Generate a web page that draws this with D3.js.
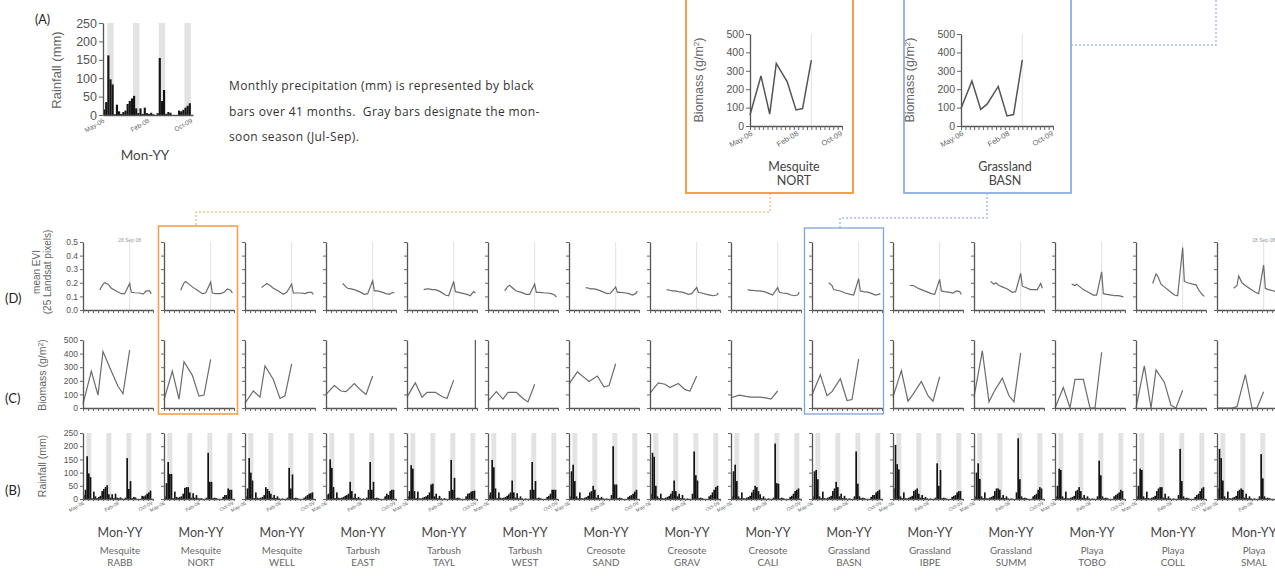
<!DOCTYPE html>
<html>
<head>
<meta charset="utf-8">
<script src="https://cdn.jsdelivr.net/npm/d3@7"></script>
<style>
  html, body { margin: 0; padding: 0; background: #fff; overflow: hidden; }
  svg { display: block; }
</style>
</head>
<body>
<div id="chart"></div>
<script>
// sites, left to right
const sites = ['RABB', 'NORT', 'WELL', 'EAST', 'TAYL', 'WEST', 'SAND', 'GRAV', 'CALI',
  'BASN', 'IBPE', 'SUMM', 'TOBO', 'COLL', 'SMAL'];
const siteTypes = ['Mesquite', 'Mesquite', 'Mesquite', 'Tarbush', 'Tarbush', 'Tarbush',
  'Creosote', 'Creosote', 'Creosote', 'Grassland', 'Grassland', 'Grassland', 'Playa', 'Playa', 'Playa'];

// month index 0 = May-06 ... 40 = Sep-09
const xTickMonths = [0, 21, 41];
const xTickLabels = ['May-06', 'Feb-08', 'Oct-09'];
const monsoonStarts = [2, 14, 26, 38]; // Jul of each year, 3 months long
const refMonth = 28;                    // 28 Sep 08
const eviTicks = [0, 0.1, 0.2, 0.3, 0.4, 0.5];
const biomassTicks = [0, 100, 200, 300, 400, 500];
const rainTicks = [0, 50, 100, 150, 200, 250];

const eviMonths = [10, 12, 13, 15, 17, 20, 23, 25, 28, 29, 31, 34, 36, 38, 40, 41];
const eviValues = [
  [0.147, 0.19, 0.20, 0.19, 0.16, 0.14, 0.12, 0.12, 0.195, 0.13, 0.127, 0.125, 0.117, 0.14, 0.14, 0.117], // RABB
  [0.145, 0.20, 0.21, 0.19, 0.17, 0.145, 0.12, 0.125, 0.205, 0.125, 0.12, 0.12, 0.13, 0.155, 0.145, 0.125], // NORT
  [0.165, 0.185, 0.195, 0.18, 0.16, 0.14, 0.115, 0.13, 0.19, 0.125, 0.125, 0.125, 0.12, 0.13, 0.13, 0.115], // WELL
  [0.195, 0.17, 0.16, 0.155, 0.15, 0.135, 0.115, 0.12, 0.215, 0.14, 0.14, 0.13, 0.12, 0.115, 0.13, 0.125], // EAST
  [0.15, 0.155, 0.155, 0.15, 0.15, 0.135, 0.11, 0.105, 0.21, 0.135, 0.13, 0.12, 0.115, 0.105, 0.135, 0.125], // TAYL
  [0.14, 0.175, 0.18, 0.16, 0.14, 0.13, 0.115, 0.115, 0.19, 0.13, 0.13, 0.125, 0.125, 0.12, 0.11, 0.095], // WEST
  [0.165, 0.16, 0.155, 0.155, 0.15, 0.135, 0.12, 0.125, 0.17, 0.13, 0.13, 0.125, 0.12, 0.11, 0.12, 0.14], // SAND
  [0.15, 0.145, 0.14, 0.14, 0.135, 0.13, 0.115, 0.12, 0.165, 0.13, 0.125, 0.115, 0.11, 0.105, 0.11, 0.125], // GRAV
  [0.15, 0.145, 0.145, 0.14, 0.14, 0.135, 0.12, 0.11, 0.165, 0.13, 0.125, 0.12, 0.11, 0.105, 0.11, 0.13], // CALI
  [0.20, 0.18, 0.15, 0.145, 0.14, 0.125, 0.115, 0.11, 0.23, 0.14, 0.135, 0.13, 0.12, 0.11, 0.115, 0.12], // BASN
  [0.18, 0.18, 0.175, 0.16, 0.15, 0.135, 0.12, 0.115, 0.225, 0.14, 0.135, 0.13, 0.125, 0.14, 0.135, 0.115], // IBPE
  [0.21, 0.19, 0.20, 0.18, 0.17, 0.155, 0.13, 0.135, 0.27, 0.175, 0.165, 0.15, 0.15, 0.15, 0.195, 0.16], // SUMM
  [0.19, 0.18, 0.19, 0.17, 0.15, 0.13, 0.11, 0.11, 0.28, 0.12, 0.115, 0.11, 0.105, 0.105, 0.10, 0.095], // TOBO
  [0.195, 0.265, 0.25, 0.19, 0.17, 0.14, 0.11, 0.105, 0.46, 0.21, 0.20, 0.19, 0.185, 0.14, 0.11, 0.10], // COLL
  [0.16, 0.18, 0.25, 0.20, 0.18, 0.155, 0.13, 0.12, 0.33, 0.16, 0.15, 0.14, 0.13, 0.13, 0.13, 0.12]  // SMAL
];

const biomassMonths = [0, 5, 9, 12, 17, 21, 24, 28];
const biomassValues = [
  [30, 270, 95, 415, 270, 160, 105, 425], // RABB
  [60, 272, 65, 340, 240, 87, 95, 358],   // NORT
  [35, 125, 80, 310, 210, 70, 90, 325],   // WELL
  [100, 165, 125, 120, 180, 130, 100, 235], // EAST
  [80, 185, 80, 115, 115, 85, 70, 205],   // TAYL
  [50, 120, 65, 115, 115, 70, 45, 175],   // WEST
  [175, 265, 225, 195, 235, 155, 165, 325], // SAND
  [110, 185, 175, 150, 180, 135, 125, 235], // GRAV
  [75, 95, 85, 80, 80, 75, 65, 125],      // CALI
  [95, 245, 90, 120, 215, 55, 62, 360],   // BASN
  [80, 275, 50, 100, 195, 90, 50, 230],   // IBPE
  [80, 420, 45, 120, 220, 90, 45, 405],   // SUMM
  [0, 150, 0, 210, 210, 0, 0, 410],       // TOBO
  [0, 310, 0, 280, 190, 20, 0, 130],      // COLL
  [0, 0, 0, 10, 245, 0, 0, 120]           // SMAL
];

// monthly rainfall (mm), May-06 .. Sep-09 (41 months)
const rainfallValues = [
  [15, 35, 162, 97, 83, 2, 28, 10, 3, 8, 12, 30, 38, 45, 52, 18, 5, 18, 3, 20, 5, 3, 6, 2, 0, 5, 155, 38, 68, 3, 8, 6, 0, 0, 0, 12, 10, 14, 20, 25, 32], // RABB
  [10, 60, 140, 95, 95, 3, 28, 8, 5, 8, 10, 20, 42, 45, 45, 25, 5, 22, 5, 15, 3, 2, 3, 0, 0, 5, 175, 65, 65, 3, 5, 3, 0, 0, 0, 8, 15, 15, 40, 35, 35], // NORT
  [10, 40, 155, 100, 70, 3, 25, 5, 3, 5, 8, 15, 45, 38, 30, 20, 5, 15, 3, 10, 2, 0, 2, 0, 0, 5, 118, 40, 93, 3, 5, 3, 0, 0, 0, 5, 10, 15, 20, 22, 25], // WELL
  [15, 20, 150, 118, 45, 3, 25, 5, 3, 5, 8, 12, 15, 20, 65, 30, 5, 20, 3, 8, 2, 0, 2, 0, 5, 35, 140, 35, 65, 3, 5, 3, 0, 0, 0, 10, 20, 15, 30, 35, 35], // EAST
  [10, 30, 128, 115, 30, 3, 28, 3, 2, 5, 8, 10, 15, 25, 55, 58, 10, 20, 3, 12, 2, 0, 3, 0, 0, 30, 148, 35, 80, 3, 5, 3, 0, 0, 0, 10, 20, 22, 28, 30, 32], // TAYL
  [15, 25, 148, 120, 40, 3, 25, 5, 3, 5, 8, 12, 18, 25, 70, 25, 5, 22, 3, 10, 2, 0, 2, 0, 0, 35, 140, 35, 68, 3, 5, 3, 0, 0, 0, 8, 12, 20, 35, 35, 35], // WEST
  [10, 105, 130, 68, 10, 3, 25, 3, 2, 5, 8, 12, 25, 30, 50, 35, 5, 15, 3, 8, 2, 0, 2, 0, 0, 15, 200, 55, 55, 3, 5, 3, 0, 0, 0, 8, 12, 15, 20, 28, 35], // SAND
  [20, 175, 160, 50, 10, 3, 20, 3, 2, 5, 8, 12, 20, 30, 70, 30, 10, 20, 3, 15, 2, 0, 2, 0, 0, 20, 180, 90, 70, 3, 5, 3, 0, 0, 0, 10, 15, 25, 35, 45, 50], // GRAV
  [10, 105, 130, 68, 10, 3, 25, 3, 2, 5, 8, 12, 25, 35, 50, 45, 30, 18, 3, 10, 2, 0, 2, 0, 0, 5, 210, 60, 58, 3, 5, 3, 0, 0, 0, 8, 12, 20, 30, 35, 40], // CALI
  [10, 105, 110, 75, 10, 3, 28, 3, 2, 5, 8, 12, 30, 40, 65, 45, 10, 20, 3, 12, 2, 0, 2, 0, 0, 10, 180, 58, 10, 3, 5, 3, 0, 0, 0, 8, 15, 15, 25, 30, 35], // BASN
  [40, 205, 132, 112, 10, 3, 25, 3, 2, 5, 8, 12, 30, 35, 40, 20, 5, 15, 3, 8, 2, 0, 2, 0, 0, 5, 135, 50, 110, 3, 5, 3, 0, 0, 0, 8, 12, 15, 25, 30, 30], // IBPE
  [10, 100, 135, 76, 10, 3, 25, 3, 2, 5, 8, 12, 30, 40, 40, 35, 5, 15, 3, 10, 2, 0, 2, 0, 0, 25, 230, 75, 10, 3, 5, 3, 0, 0, 0, 10, 15, 20, 35, 45, 40], // SUMM
  [10, 50, 115, 110, 10, 3, 28, 3, 2, 5, 8, 12, 30, 35, 45, 30, 5, 15, 3, 10, 2, 0, 2, 0, 0, 10, 145, 90, 10, 3, 5, 3, 0, 0, 0, 10, 15, 20, 25, 35, 30], // TOBO
  [10, 50, 115, 110, 10, 3, 28, 3, 2, 5, 8, 12, 30, 40, 45, 45, 5, 20, 3, 10, 2, 0, 2, 0, 0, 15, 190, 68, 10, 3, 5, 3, 0, 0, 0, 8, 15, 20, 30, 40, 45], // COLL
  [40, 190, 155, 70, 10, 3, 28, 3, 2, 5, 8, 12, 30, 35, 40, 35, 5, 20, 3, 10, 2, 0, 2, 0, 0, 10, 170, 78, 10, 3, 5, 3, 0, 0, 0, 10, 15, 20, 30, 35, 35]  // SMAL
];

const tickFont = '"Liberation Sans", Arial, sans-serif';
const textFont = 'Lato, "Open Sans", sans-serif';
const lineColor = '#6b6b6b';
const bandColor = '#e3e3e3';

const svg = d3.select('#chart').append('svg')
  .attr('width', 1275)
  .attr('height', 578)
  .style('font-family', tickFont);

// axes for one small panel
function drawAxes(g, x, y, o) {
  const bottom = y.range()[0];
  g.append('g')
    .attr('transform', `translate(0,${bottom})`)
    .call(d3.axisBottom(x).tickValues(d3.range(0, 42.01, o.xStep))
      .tickSize(o.xTick).tickSizeOuter(0).tickFormat(''));
  const ya = g.append('g')
    .attr('transform', `translate(${x.range()[0]},0)`)
    .call(d3.axisLeft(y).tickValues(o.yTicks).tickSize(o.yTick).tickSizeOuter(0)
      .tickPadding(2).tickFormat(o.labels ? o.fmt : ''));
  g.selectAll('.domain').attr('stroke', '#555').attr('stroke-width', 1.3);
  g.selectAll('.tick line').attr('stroke', '#666');
  ya.attr('font-size', null).attr('font-family', null);
  ya.selectAll('text').attr('fill', '#555').style('font-size', o.font + 'px');
}

function dateLabels(g, x, bottom, size, dx, dy) {
  g.selectAll(null).data(xTickMonths.filter(d => x(d) < 1272)).join('text')
    .attr('transform', d => `translate(${x(d) + dx},${bottom + dy}) rotate(-30)`)
    .attr('text-anchor', 'end')
    .attr('fill', '#666')
    .style('font-size', size + 'px')
    .text(d => xTickLabels[xTickMonths.indexOf(d)]);
}

function monsoonBands(g, x, y) {
  g.selectAll(null).data(monsoonStarts).join('rect')
    .attr('x', d => x(d))
    .attr('width', d => x(d + 3) - x(d))
    .attr('y', y.range()[1])
    .attr('height', y.range()[0] - y.range()[1])
    .attr('fill', bandColor);
}

function rainBars(g, x, y, vals) {
  g.selectAll(null).data(vals).join('rect')
    .attr('x', (d, k) => x(k))
    .attr('width', x(1) - x(0))
    .attr('y', d => y(d))
    .attr('height', d => y(0) - y(d))
    .attr('fill', '#141414');
}

function refLine(g, x, y) {
  g.append('line')
    .attr('x1', x(refMonth)).attr('x2', x(refMonth))
    .attr('y1', y.range()[1]).attr('y2', y.range()[0])
    .attr('stroke', '#e2e2e2').attr('stroke-width', 1);
}

function yTitle(text, cx, cy, size, sup) {
  const t = svg.append('text')
    .attr('transform', `translate(${cx},${cy}) rotate(-90)`)
    .attr('text-anchor', 'middle')
    .attr('fill', '#666')
    .style('font-size', size + 'px')
    .text(text);
  if (sup) {
    t.append('tspan').attr('baseline-shift', 'super').style('font-size', (size * 0.65) + 'px').text('2');
    t.append('tspan').text(')');
  }
}

const biomassLine = x => d3.line().x((d, k) => x(biomassMonths[k])).y(d => d[1]);

// ---- panel A ----
{
  const x = d3.scaleLinear().domain([0, 42]).range([103, 193]);
  const y = d3.scaleLinear().domain([0, 250]).range([115, 23]);
  const g = svg.append('g');
  monsoonBands(g, x, y);
  rainBars(g, x, y, rainfallValues[0]);
  drawAxes(g, x, y, { xStep: 42, xTick: 0, yTicks: rainTicks, yTick: 4, labels: true, fmt: d3.format('d'), font: 12.5 });
  dateLabels(g, x, 115, 6.5, 2, 7);
  yTitle('Rainfall (mm)', 61, 70, 13);
  svg.append('text').attr('x', 145).attr('y', 160).attr('text-anchor', 'middle')
    .attr('fill', '#444').style('font-family', textFont).style('font-size', '13.5px').text('Mon-YY');
  svg.append('text').attr('x', 35).attr('y', 24).attr('fill', '#222')
    .style('font-family', textFont).style('font-size', '12.5px').text('(A)');

  const note = ['Monthly precipitation (mm) is represented by black',
    'bars over 41 months.  Gray bars designate the mon-',
    'soon season (Jul-Sep).'];
  svg.append('g').selectAll('text').data(note).join('text')
    .attr('x', 229).attr('y', (d, k) => 90 + k * 25.5)
    .attr('fill', '#333').style('font-family', '"Open Sans", sans-serif').style('font-size', '12px')
    .style('letter-spacing', '0.4px')
    .attr('xml:space', 'preserve')
    .text(d => d);
}

// ---- enlarged biomass panels (NORT, BASN) ----
const zoomPanels = [
  { site: 1, x0: 750, box: [686, 853], color: '#f6a04b', width: 2, titleX: 703 },
  { site: 9, x0: 961, box: [904, 1071], color: '#7fa2dd', width: 1.6, titleX: 914 }
];
zoomPanels.forEach(p => {
  svg.append('rect')
    .attr('x', p.box[0]).attr('y', -4)
    .attr('width', p.box[1] - p.box[0]).attr('height', 197)
    .attr('fill', 'none').attr('stroke', p.color).attr('stroke-width', p.width);
  const x = d3.scaleLinear().domain([0, 42]).range([p.x0, p.x0 + 92]);
  const y = d3.scaleLinear().domain([0, 500]).range([126, 34]);
  const g = svg.append('g');
  refLine(g, x, y);
  g.append('path')
    .datum(biomassValues[p.site].map(v => [0, y(v)]))
    .attr('d', biomassLine(x))
    .attr('fill', 'none').attr('stroke', '#555').attr('stroke-width', 1.5);
  drawAxes(g, x, y, { xStep: 2, xTick: 4, yTicks: biomassTicks, yTick: 4, labels: true, fmt: d3.format('d'), font: 10.5 });
  dateLabels(g, x, 126, 7.5, 3, 9);
  yTitle('Biomass (g/m', p.titleX, 80, 12.5, true);
  const cx = p.x0 + 44;
  svg.append('text').attr('x', cx).attr('y', 171).attr('text-anchor', 'middle')
    .attr('fill', '#444').style('font-family', textFont).style('font-size', '12.5px')
    .text(siteTypes[p.site]);
  svg.append('text').attr('x', cx).attr('y', 185).attr('text-anchor', 'middle')
    .attr('fill', '#444').style('font-family', textFont).style('font-size', '12.5px')
    .text(sites[p.site]);
});

// dotted connectors
const connectors = [
  { pts: [[770, 193], [770, 212], [196, 212], [196, 226]], color: '#f5a04a', w: 1 },
  { pts: [[987, 193], [987, 218], [840, 218], [840, 228]], color: '#a9bfe8', w: 1.5 },
  { pts: [[1071, 45], [1216, 45], [1216, 0]], color: '#a9bfe8', w: 1.5 }
];
connectors.forEach(c => {
  svg.append('path').attr('d', d3.line()(c.pts))
    .attr('fill', 'none').attr('stroke', c.color).attr('stroke-width', c.w)
    .attr('stroke-dasharray', '2,2');
});

// ---- small multiples ----
const rowE = d3.scaleLinear().domain([0, 0.5]).range([310, 242]);
const rowC = d3.scaleLinear().domain([0, 500]).range([408, 340]);
const rowB = d3.scaleLinear().domain([0, 250]).range([499, 433]);

sites.forEach((site, i) => {
  const x0 = 83 + i * 81;
  const x = d3.scaleLinear().domain([0, 42]).range([x0, x0 + 70]);
  const first = i === 0;

  // (D) EVI
  const gE = svg.append('g');
  refLine(gE, x, rowE);
  gE.append('path')
    .datum(eviValues[i])
    .attr('d', d3.line().x((d, k) => x(eviMonths[k])).y(d => rowE(d)))
    .attr('fill', 'none').attr('stroke', lineColor).attr('stroke-width', 1.2);
  drawAxes(gE, x, rowE, { xStep: 3, xTick: 3, yTicks: eviTicks, yTick: 3, labels: first, fmt: d3.format('.1f'), font: 8.5 });
  if (i === 0 || i === sites.length - 1) {
    gE.append('text').attr('x', x(refMonth)).attr('y', 242).attr('text-anchor', 'middle')
      .attr('fill', '#999').style('font-size', '5px').text('28 Sep 08');
  }

  // (C) biomass
  const gC = svg.append('g');
  gC.append('path')
    .datum(biomassValues[i].map(v => [0, rowC(v)]))
    .attr('d', biomassLine(x))
    .attr('fill', 'none').attr('stroke', lineColor).attr('stroke-width', 1.2);
  drawAxes(gC, x, rowC, { xStep: 3, xTick: 3, yTicks: biomassTicks, yTick: 3, labels: first, fmt: d3.format('d'), font: 8.5 });
  if (site === 'TAYL') {
    gC.append('line').attr('x1', x(41)).attr('x2', x(41))
      .attr('y1', rowC(500)).attr('y2', rowC(0)).attr('stroke', '#555').attr('stroke-width', 1.2);
  }

  // (B) rainfall
  const gB = svg.append('g');
  monsoonBands(gB, x, rowB);
  rainBars(gB, x, rowB, rainfallValues[i]);
  drawAxes(gB, x, rowB, { xStep: 3, xTick: 2, yTicks: rainTicks, yTick: 3, labels: first, fmt: d3.format('d'), font: 8.5 });
  dateLabels(gB, x, 499, 5, 1.5, 5);

  const cx = x0 + 37;
  svg.append('text').attr('x', cx).attr('y', 537).attr('text-anchor', 'middle')
    .attr('fill', '#444').style('font-family', textFont).style('font-size', '12.5px').text('Mon-YY');
  svg.append('text').attr('x', cx).attr('y', 554).attr('text-anchor', 'middle')
    .attr('fill', '#666').style('font-family', textFont).style('font-size', '9.8px').text(siteTypes[i]);
  svg.append('text').attr('x', cx).attr('y', 566).attr('text-anchor', 'middle')
    .attr('fill', '#666').style('font-family', textFont).style('font-size', '9.8px').text(site);
});

// highlight boxes around NORT and BASN columns
svg.append('rect').attr('x', 158.5).attr('y', 226).attr('width', 79).attr('height', 188)
  .attr('fill', 'none').attr('stroke', '#f6a04b').attr('stroke-width', 1.6);
svg.append('rect').attr('x', 804.5).attr('y', 228).attr('width', 79).attr('height', 186)
  .attr('fill', 'none').attr('stroke', '#7fa2dd').attr('stroke-width', 1.3);

// row titles
yTitle('mean EVI', 40, 272, 10);
yTitle('(25 Landsat pixels)', 51, 272, 10);
yTitle('Biomass (g/m', 46, 375, 10.5, true);
yTitle('Rainfall (mm)', 46, 466, 10.5);
[['(D)', 303], ['(C)', 403], ['(B)', 495]].forEach(([t, yy]) => {
  svg.append('text').attr('x', 5).attr('y', yy).attr('fill', '#222')
    .style('font-family', textFont).style('font-size', '13px').text(t);
});
</script>
</body>
</html>
